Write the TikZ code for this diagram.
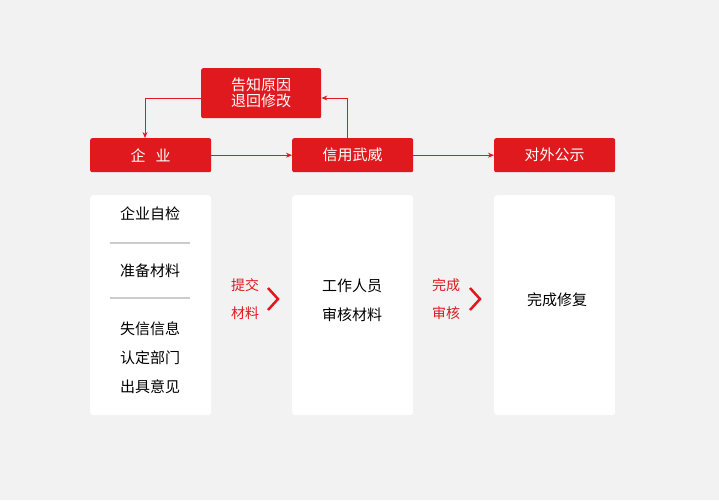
\documentclass[tikz,border=0pt]{standalone}
\usepackage{fontspec}
\setmainfont{Noto Sans CJK SC}
\usetikzlibrary{arrows.meta}
\definecolor{rd}{HTML}{E0191F}
\definecolor{bg}{HTML}{F2F2F2}
\begin{document}
\begin{tikzpicture}[x=1pt,y=-1pt,
  rbox/.style={fill=rd,draw=none,rounded corners=2pt,text=white,font=\fontsize{15}{19}\selectfont,inner sep=0pt,anchor=north west},
  panel/.style={fill=white,draw=none,rounded corners=3pt,anchor=north west,inner sep=0pt},
  txt/.style={font=\fontsize{15}{19}\selectfont,text=black},
  rtxt/.style={font=\fontsize{14}{18}\selectfont,text=rd},
  conn/.style={draw=rd,line width=0.9pt,-{Stealth[length=6pt,width=5pt]}},
  sep/.style={draw=black!20,line width=2pt}]
\fill[bg] (0,0) rectangle (719,500);
\useasboundingbox (0,0) rectangle (719,500);
\node[rbox,minimum width=120pt,minimum height=50pt,align=center] (top) at (201,68) {告知原因\\[-3pt]退回修改};
\node[rbox,minimum width=121pt,minimum height=34pt] (qy) at (90,138) {企\hspace{10pt}业};
\node[rbox,minimum width=121pt,minimum height=34pt] (xy) at (292,138) {信用武威};
\node[rbox,minimum width=121pt,minimum height=34pt] (dw) at (494,138) {对外公示};
\node[panel,minimum width=121pt,minimum height=220pt] (p1) at (90,195) {};
\node[panel,minimum width=121pt,minimum height=220pt] (p2) at (292,195) {};
\node[panel,minimum width=121pt,minimum height=220pt] (p3) at (494,195) {};
\coordinate (c1) at (145,98);
\coordinate (c2) at (347,98);
\draw[conn] (top.west |- c1) -- (c1) -- (qy.north -| c1);
\draw[conn] (xy.north -| c2) -- (c2) -- (top.east |- c2);
\draw[conn] (qy.east) -- (xy.west);
\draw[conn] (xy.east) -- (dw.west);
\draw[sep] (110,243) -- (190,243);
\draw[sep] (110,298) -- (190,298);
\node[txt] (a1) at (150,214) {企业自检};
\node[txt] (a2) at (150,271) {准备材料};
\node[txt] (a3) at (150,329) {失信信息};
\node[txt] (a4) at (150,358) {认定部门};
\node[txt] (a5) at (150,387) {出具意见};
\node[txt] (b1) at (352,286) {工作人员};
\node[txt] (b2) at (352,315) {审核材料};
\node[txt] (c3) at (557,300) {完成修复};
\node[rtxt] (l1) at (245,285) {提交};
\node[rtxt] (l2) at (245,313) {材料};
\node[rtxt] (l3) at (446,285) {完成};
\node[rtxt] (l4) at (446,313) {审核};
\draw[rd,line width=2.5pt] (268,288) -- (278,299) -- (268,310);
\draw[rd,line width=2.5pt] (470,288) -- (480,299) -- (470,310);
\end{tikzpicture}
\end{document}
